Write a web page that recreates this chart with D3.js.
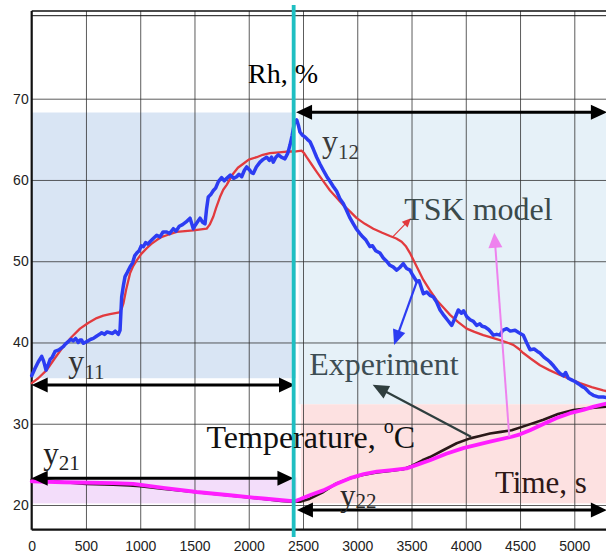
<!DOCTYPE html>
<html>
<head>
<meta charset="utf-8">
<script src="https://cdn.jsdelivr.net/npm/d3@7"></script>
<style>
  body { margin: 0; background: #fff; }
  svg text { font-family: "Liberation Serif", "Times New Roman", serif; }
  .axis text { font-family: "Liberation Sans", Arial, sans-serif; font-size: 14px; fill: #222; }
</style>
</head>
<body>
<div id="chart"></div>
<script>
const w = 606, h = 553;

// ticks
const xTicks = [0, 500, 1000, 1500, 2000, 2500, 3000, 3500, 4000, 4500, 5000];
const yTicks = [20, 30, 40, 50, 60, 70];

// switch time (s) between the two identification stages
const switchTime = 2414;

// relative humidity, experiment [time s, Rh %]
const rhExp = [[0,35.9],[30,36.8],[60,37.6],[92,38.3],[110,37.7],[132,36.6],[150,37.2],[169,37.9],[190,38.2],[215,38.9],[250,39.1],[291,39.5],[310,39.8],[337,40.1],[360,40.4],[383,40.2],[405,40.5],[429,40.0],[445,40.3],[460,40.3],[475,39.9],[491,40.0],[520,40.2],[545,40.4],[568,40.5],[600,40.8],[625,41.0],[645,41.2],[670,41.0],[695,41.3],[721,41.2],[745,41.1],[770,41.4],[798,41.0],[814,41.5],[829,45.6],[845,47.0],[860,48.1],[880,48.6],[906,49.3],[930,49.8],[950,50.7],[968,51.0],[990,51.3],[1010,51.9],[1029,51.8],[1050,52.3],[1070,52.1],[1090,52.4],[1120,52.8],[1152,53.2],[1182,53.0],[1210,53.6],[1244,53.6],[1270,53.4],[1305,54.0],[1330,53.7],[1360,54.3],[1390,54.5],[1420,54.8],[1459,55.3],[1475,54.6],[1489,54.0],[1510,54.5],[1530,54.9],[1551,55.3],[1575,54.8],[1597,54.6],[1612,56.5],[1627,57.9],[1650,58.2],[1674,58.7],[1695,59.0],[1720,59.8],[1750,60.3],[1775,59.9],[1797,60.2],[1830,60.6],[1860,60.2],[1889,60.4],[1910,60.7],[1935,60.4],[1960,61.2],[1981,61.6],[2010,61.2],[2025,60.9],[2042,60.8],[2070,61.6],[2104,62.2],[2130,62.5],[2165,62.8],[2190,62.4],[2210,62.8],[2226,62.2],[2250,62.8],[2273,63.1],[2300,62.8],[2334,62.6],[2360,63.3],[2380,64.3],[2400,65.5],[2420,67.0],[2442,67.4],[2460,66.6],[2472,65.9],[2495,65.5],[2518,65.3],[2540,65.0],[2565,64.7],[2595,63.8],[2626,62.8],[2655,62.0],[2687,61.2],[2720,60.4],[2750,59.8],[2779,59.2],[2810,58.6],[2840,57.7],[2871,57.1],[2900,56.3],[2930,55.4],[2964,54.6],[2990,54.0],[3025,53.4],[3050,53.0],[3080,52.6],[3117,51.8],[3140,51.9],[3170,51.3],[3209,51.0],[3240,50.4],[3270,50.0],[3301,49.5],[3330,49.3],[3363,48.9],[3390,49.2],[3424,49.7],[3455,49.1],[3486,48.9],[3510,48.3],[3548,47.5],[3570,47.6],[3609,46.0],[3640,46.2],[3670,45.8],[3701,45.6],[3730,45.0],[3763,44.0],[3800,43.3],[3835,42.7],[3870,42.1],[3900,43.0],[3931,44.0],[3960,43.6],[3980,43.9],[4008,43.2],[4040,42.8],[4070,42.6],[4100,42.1],[4130,42.3],[4150,42.0],[4177,41.9],[4210,41.6],[4230,41.3],[4254,40.9],[4285,41.0],[4315,40.9],[4340,41.5],[4377,41.7],[4410,41.4],[4454,41.5],[4490,41.2],[4530,40.9],[4560,40.0],[4592,39.1],[4630,39.2],[4660,38.9],[4684,38.7],[4720,38.2],[4750,37.9],[4776,37.6],[4810,37.1],[4840,36.6],[4868,36.2],[4900,35.9],[4920,36.3],[4945,35.6],[4975,35.4],[5006,35.2],[5040,34.9],[5070,34.6],[5098,34.4],[5140,33.8],[5175,33.5],[5220,33.3],[5267,33.3],[5300,33.2]];

// relative humidity, TSK model
const rhModel = [[0,35.0],[60,35.6],[138,36.6],[210,38.0],[291,39.5],[370,40.7],[445,41.7],[520,42.4],[599,43.0],[660,43.3],[721,43.5],[808,43.7],[830,44.2],[845,44.8],[870,46.5],[906,48.5],[935,49.4],[968,50.1],[1010,50.9],[1060,51.6],[1100,52.1],[1152,52.6],[1200,53.0],[1244,53.2],[1336,53.6],[1489,53.8],[1612,54.0],[1640,54.5],[1674,55.5],[1700,56.6],[1735,57.9],[1765,58.8],[1797,59.4],[1830,60.2],[1858,60.8],[1900,61.5],[1950,62.0],[2000,62.5],[2073,62.8],[2130,63.1],[2196,63.3],[2280,63.4],[2350,63.5],[2420,63.5],[2488,63.6],[2510,63.3],[2534,62.8],[2580,61.9],[2626,61.0],[2690,59.8],[2749,58.7],[2810,57.8],[2871,56.9],[2935,56.1],[2995,55.3],[3070,54.6],[3148,54.0],[3230,53.5],[3301,53.1],[3360,52.8],[3409,52.4],[3450,51.8],[3486,51.0],[3545,49.4],[3609,47.7],[3670,46.4],[3732,45.2],[3800,44.2],[3855,43.4],[3930,42.5],[4008,41.7],[4080,41.3],[4161,40.9],[4240,40.6],[4315,40.3],[4380,40.0],[4438,39.7],[4490,39.2],[4530,38.7],[4600,38.0],[4684,37.2],[4770,36.6],[4868,36.0],[4960,35.5],[5052,35.0],[5160,34.5],[5267,34.1],[5300,34.0]];

// temperature, experiment [time s, degC]
const tempExp = [[0,23.1],[150,23.0],[300,22.8],[500,22.6],[750,22.5],[900,22.4],[1000,22.3],[1200,22.0],[1500,21.6],[1800,21.2],[2100,20.8],[2300,20.5],[2420,20.4],[2472,20.4],[2550,20.7],[2687,21.6],[2800,22.6],[2933,23.3],[3050,23.7],[3179,24.0],[3300,24.2],[3424,24.4],[3500,24.8],[3600,25.5],[3670,25.9],[3800,26.8],[3916,27.6],[4039,28.2],[4130,28.5],[4223,28.8],[4323,29.0],[4423,29.2],[4560,29.8],[4715,30.5],[4850,31.2],[4992,31.7],[5130,31.9],[5300,32.1]];

// temperature, TSK model
const tempModel = [[0,22.9],[291,22.8],[752,22.7],[937,22.6],[1213,22.1],[1520,21.6],[1827,21.2],[2134,20.8],[2380,20.5],[2430,20.5],[2472,20.7],[2580,21.3],[2687,21.8],[2810,22.6],[2933,23.3],[3060,23.8],[3179,24.1],[3320,24.3],[3455,24.5],[3560,25.0],[3670,25.5],[3820,26.3],[3977,27.0],[4100,27.4],[4223,27.8],[4423,28.4],[4500,28.7],[4592,29.2],[4720,30.0],[4838,30.7],[4960,31.3],[5083,31.7],[5180,32.1],[5300,32.5]];

// shaded stages [t0, t1, v0, v1]
const zones = [[0,2435,35.6,68.3],[2460,5300,32.4,68.3],[2480,5300,20.2,32.4],[0,2440,20.2,23.4]];
const zoneColors = ["#d9e5f4", "#e6f1f8", "#fde1e1", "#f3ddfa"];

// double arrows for the four outputs [t0, t1, v]
const spans = [[0,2426,34.77],[0,2412,23.3],[2436,5300,68.33],[2444,5300,19.38]];

// annotation arrows [tFrom, vFrom, tTo, vTo]
const pointers = [[3327,53.0,3495,55.3],[3555,47.7,3339,39.7],[4048,28.4,3142,34.8],[4401,28.4,4263,53.5]];

const svg = d3.select("#chart").append("svg")
  .attr("width", w).attr("height", h)
  .attr("viewBox", "0 0 " + w + " " + h);

const x = d3.scaleLinear().domain([0, 5000]).range([31.7, 574.3]);
const y = d3.scaleLinear().domain([20, 70]).range([505, 98.7]);
const plotTop = 11, plotBottom = 529.7, plotLeft = 31.7;

// shaded areas
svg.append("g").selectAll("rect").data(zones).enter().append("rect")
  .attr("x", d => x(d[0])).attr("width", d => x(d[1]) - x(d[0]))
  .attr("y", d => y(d[3])).attr("height", d => y(d[2]) - y(d[3]))
  .attr("fill", (d, i) => zoneColors[i]);

// grid + axes
const gx = svg.append("g").attr("class", "axis").attr("transform", "translate(0," + plotBottom + ")")
  .call(d3.axisBottom(x).tickValues(xTicks).tickFormat(d3.format("d"))
    .tickSize(-(plotBottom - plotTop)).tickPadding(11));
const gy = svg.append("g").attr("class", "axis").attr("transform", "translate(" + plotLeft + ",0)")
  .call(d3.axisLeft(y).tickValues(yTicks).tickSize(-(w - plotLeft)).tickPadding(3));
[gx, gy].forEach(g => {
  g.select(".domain").remove();
  g.selectAll(".tick line").attr("stroke", "#333").attr("stroke-opacity", 0.8).attr("stroke-width", 1);
});
gx.selectAll(".tick").filter(d => d === 0).select("line").remove();

// frame
svg.append("line").attr("x1", plotLeft).attr("x2", w).attr("y1", plotTop).attr("y2", plotTop).attr("stroke", "#111").attr("stroke-width", 1.5);
svg.append("line").attr("x1", plotLeft).attr("x2", w).attr("y1", plotTop + 4.7).attr("y2", plotTop + 4.7).attr("stroke", "#111").attr("stroke-width", 1);
svg.append("line").attr("x1", plotLeft).attr("x2", plotLeft).attr("y1", plotTop).attr("y2", plotBottom).attr("stroke", "#111").attr("stroke-width", 2.2);
svg.append("line").attr("x1", plotLeft).attr("x2", w).attr("y1", plotBottom).attr("y2", plotBottom).attr("stroke", "#111").attr("stroke-width", 2.2);

// curves
const line = d3.line().x(d => x(d[0])).y(d => y(d[1]));
const curve = (data, color, width) => svg.append("path").datum(data)
  .attr("d", line).attr("fill", "none").attr("stroke", color)
  .attr("stroke-width", width).attr("stroke-linejoin", "round").attr("stroke-linecap", "round");

curve(rhModel, "#e23a3e", 2.3);
curve(rhExp, "#2c3cf2", 3.5);
curve(tempExp, "#2a1818", 2.6);
curve(tempModel, "#ff1eff", 3.8);

// arrow helpers
function head(tx, ty, fx, fy, len, hw, color) {
  const a = Math.atan2(ty - fy, tx - fx);
  const bx = tx - len * Math.cos(a), by = ty - len * Math.sin(a);
  const px = -Math.sin(a) * hw, py = Math.cos(a) * hw;
  svg.append("path").attr("d", "M" + tx + "," + ty + "L" + (bx + px) + "," + (by + py) + "L" + (bx - px) + "," + (by - py) + "Z")
    .attr("fill", color);
}
function arrow(x1, y1, x2, y2, color, width, len, hw, both) {
  const a = Math.atan2(y2 - y1, x2 - x1);
  const sx = both ? x1 + (len - 2) * Math.cos(a) : x1, sy = both ? y1 + (len - 2) * Math.sin(a) : y1;
  svg.append("line").attr("x1", sx).attr("y1", sy)
    .attr("x2", x2 - (len - 2) * Math.cos(a)).attr("y2", y2 - (len - 2) * Math.sin(a))
    .attr("stroke", color).attr("stroke-width", width);
  head(x2, y2, x1, y1, len, hw, color);
  if (both) head(x1, y1, x2, y2, len, hw, color);
}

// pointers
const pointerStyle = [["#e23a3e", 1.2, 9, 4], ["#2c3cf2", 2.2, 15, 6.5], ["#2f3e3e", 2.2, 16, 7], ["#ee82ee", 2, 15, 7]];
pointers.forEach((p, i) => {
  const s = pointerStyle[i];
  arrow(x(p[0]), y(p[1]), x(p[2]), y(p[3]), s[0], s[1], s[2], s[3], false);
});

// output span arrows
spans.forEach(s => arrow(x(s[0]), y(s[2]), x(s[1]), y(s[2]), "#000", 3, 16, 7.5, true));

// switching instant
svg.append("line").attr("x1", x(switchTime)).attr("x2", x(switchTime))
  .attr("y1", 5).attr("y2", 537).attr("stroke", "#1fbfc2").attr("stroke-width", 3.8);

// labels
function label(t, v, parts, color) {
  const txt = svg.append("text").attr("x", x(t)).attr("y", y(v)).attr("fill", color);
  parts.forEach(p => {
    const s = txt.append("tspan").text(p[0]).attr("font-size", p[1]);
    if (p[2]) s.attr("dy", p[2]);
  });
}
label(1993, 71.9, [["Rh, %", 28]], "#000");
label(2675, 63.38, [["y", 32], ["12", 21, 6.5]], "#3a3a3a");
label(3433, 55.07, [["TSK model", 32]], "#3b4a4b");
label(2558, 36.0, [["Experiment", 32]], "#3d4d53");
label(1611, 26.98, [["Temperature, ", 32], ["o", 20, -15], ["C", 32, 15]], "#111");
label(4269, 21.51, [["Time, s", 31]], "#2d1717");
label(337, 36.31, [["y", 32], ["11", 21, 6.5]], "#333");
label(107, 25.1, [["y", 31], ["21", 21, 6]], "#222");
label(2841, 19.91, [["y", 31], ["22", 21, 2]], "#2a2a2a");
</script>
</body>
</html>
